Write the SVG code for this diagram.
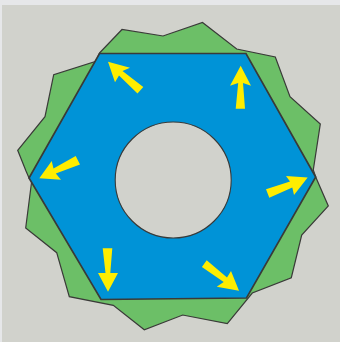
<svg xmlns="http://www.w3.org/2000/svg" width="340" height="342" viewBox="0 0 340 342">
<style>
.a{fill:#ffed00;stroke:none}
.o{stroke:#3a3a38;stroke-linejoin:miter}
</style>
<rect width="340" height="342" fill="#e6e7e9"/>
<rect x="2" y="5" width="338" height="337" fill="#d1d2cc"/>
<path id="gear" class="o" fill="#6cbf67" stroke-width="1.2" d="M99.5 53L122 29.5L163 36L202.5 22.5L236.7 49L275.3 57L290 96.7L320.3 124L313.3 170L315.7 177L328.3 206L301.7 235L291.3 277.7L252.3 293L227.3 323.7L182.7 315L144.3 329.7L113.3 305.3L69.3 296.7L56.7 252.7L25.7 228L31.7 181L29 178L26 171L17.7 150.3L45 116.7L53.7 74.7L96 61.3Z"/>
<path id="hexagon" class="o" fill="#0093d7" stroke-width="1.7" d="M99.5 53.5L246 53.5L315.7 177L246.5 298L101 299.5L29 178Z"/>
<circle id="hole" class="o" cx="173.2" cy="180" r="58" fill="#d1d2cc" stroke-width="1.1"/>
<g id="arrows">
<path class="a" d="M240.7 65.7L251 85.7L243 83L245 108.7L235.7 108.7L238.2 83L230 85.7Z"/>
<path class="a" d="M108 61.7L130 67.7L122.5 71L143.3 87L137.5 93.6L119 75.5L115 82.3Z"/>
<path class="a" d="M39.3 178.3L51.7 161L53.5 168.5L75.7 156L80 164.5L55.8 173.5L61 179.7Z"/>
<path class="a" d="M108 291.7L98 273L105.5 273L102.7 248.3L112.3 248.3L110.3 273L118 273Z"/>
<path class="a" d="M239 290.8L216.7 286.7L223.7 282L201.9 266.9L206.7 260.2L227 277.5L231 271Z"/>
<path class="a" d="M307.7 177.5L294 195L292.3 187.5L269.3 197.8L266 189.3L290 181.5L286 176Z"/>
</g>
</svg>
